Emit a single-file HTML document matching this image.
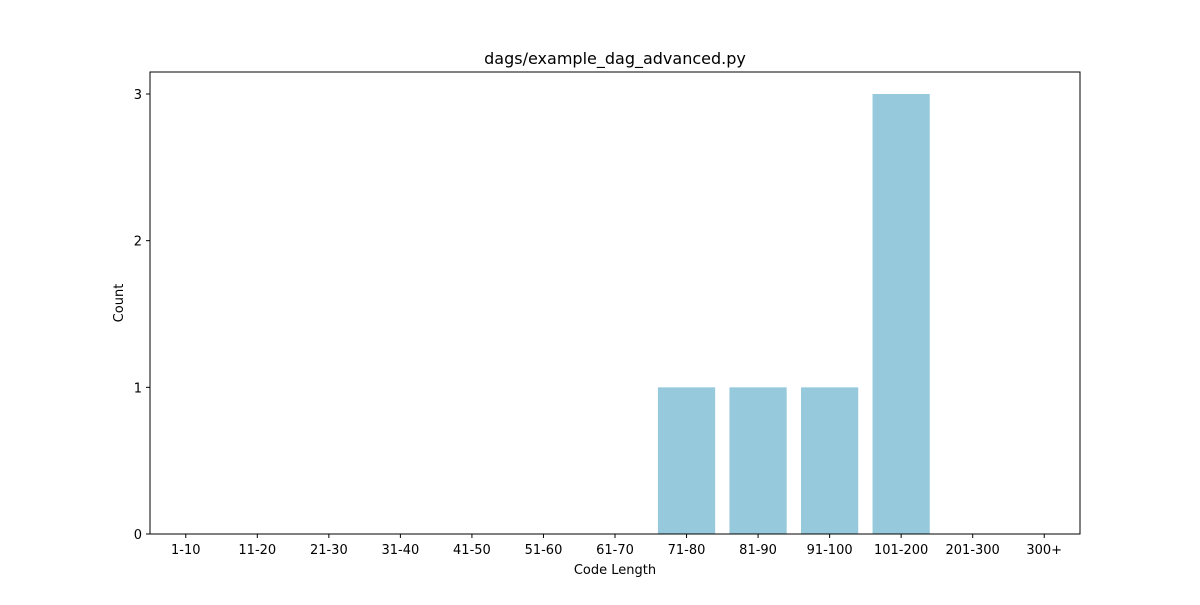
<!DOCTYPE html>
<html><head><meta charset="utf-8"><style>
body{margin:0;background:#fff}
text{font-family:"DejaVu Sans","Liberation Sans",sans-serif;fill:#000}
</style></head><body>
<svg id="chart" width="1200" height="600" xmlns="http://www.w3.org/2000/svg">
<rect width="1200" height="600" fill="#fff"/>
<g id="plot"></g>
<text x="615" y="64" font-size="16" text-anchor="middle">dags/example_dag_advanced.py</text>
<text x="615" y="574" font-size="13" text-anchor="middle">Code Length</text>
<text x="123" y="303" font-size="13" text-anchor="middle" transform="rotate(-90 123 303)">Count</text>
</svg>
<script>
const categories=["1-10","11-20","21-30","31-40","41-50","51-60","61-70","71-80","81-90","91-100","101-200","201-300","300+"];
const counts=[0,0,0,0,0,0,0,1,1,1,3,0,0];
const yTicks=[0,1,2,3];
const L=150,R=1080,T=72,B=534,yMax=3.15;
const g=document.getElementById('plot');
const ns="http://www.w3.org/2000/svg";
const step=(R-L)/categories.length;
const xc=i=>L+(i+0.5)*step;
const y=v=>B-(v/yMax)*(B-T);
function mk(t,a){const e=document.createElementNS(ns,t);for(const k in a)e.setAttribute(k,a[k]);g.appendChild(e);return e;}
counts.forEach((v,i)=>{
 if(v<=0)return;
 const r=mk('rect',{x:xc(i)-0.4*step,y:y(v),width:0.8*step,height:B-y(v),fill:'#97c9dc'});
 
 
});
mk('rect',{x:L,y:T,width:R-L,height:B-T,fill:'none',stroke:'#000','stroke-width':1});
categories.forEach((c,i)=>{
 mk('line',{x1:xc(i),x2:xc(i),y1:B,y2:B+4,stroke:'#000'});
 const t=mk('text',{x:xc(i),y:B+20,'font-size':13,'text-anchor':'middle'});t.textContent=c;
 
 
});
yTicks.forEach(v=>{
 mk('line',{x1:L-4,x2:L,y1:y(v),y2:y(v),stroke:'#000'});
 const t=mk('text',{x:L-8,y:y(v)+5,'font-size':13,'text-anchor':'end'});t.textContent=v;
 
 
});
</script>
</body></html>
